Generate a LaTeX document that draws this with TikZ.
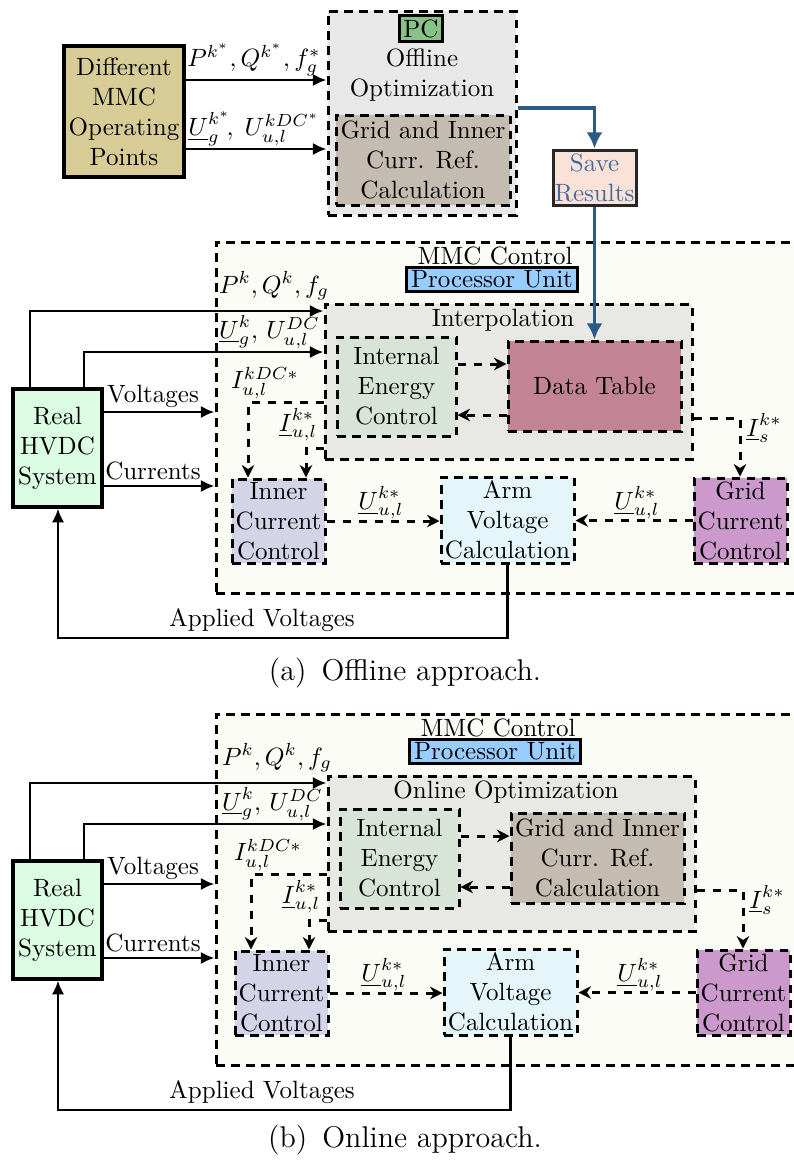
\documentclass[tikz,border=0pt]{standalone}
\usetikzlibrary{arrows.meta,fit}

\definecolor{tanbg}{RGB}{216,204,150}
\definecolor{pcbg}{RGB}{232,232,232}
\definecolor{pcgreen}{RGB}{136,194,136}
\definecolor{girbg}{RGB}{196,188,176}
\definecolor{savebg}{RGB}{250,226,216}
\definecolor{savetext}{RGB}{64,108,156}
\definecolor{flowblue}{RGB}{44,90,134}
\definecolor{mmcbg}{RGB}{252,252,246}
\definecolor{procbg}{RGB}{153,204,255}
\definecolor{interbg}{RGB}{232,232,228}
\definecolor{iecbg}{RGB}{216,228,216}
\definecolor{tabbg}{RGB}{194,132,148}
\definecolor{hvdcbg}{RGB}{220,252,228}
\definecolor{iccbg}{RGB}{212,212,232}
\definecolor{avcbg}{RGB}{228,246,250}
\definecolor{gccbg}{RGB}{204,153,204}

\tikzset{
  base/.style={inner sep=0pt},
  dbox/.style={base, draw, line width=1.2pt, dash pattern=on 3.4pt off 2.6pt},
  sbox/.style={base, draw, line width=1.3pt},
  txt/.style={align=center, inner sep=0pt},
  tag/.style={draw, line width=1.2pt, inner xsep=1.8pt, inner ysep=1.2pt, minimum height=9.4pt},
  arr/.style={line width=1.1pt, -{Latex[length=5.5pt,width=5pt]}},
  darr/.style={line width=1.2pt, dash pattern=on 3.2pt off 3.2pt, -{Stealth[length=5pt,width=5pt]}},
  blarr/.style={line width=1.5pt, draw=flowblue, -{Latex[length=6.5pt,width=6.5pt]}},
  lbl/.style={inner sep=1pt},
}

% One control structure: #1 name prefix, #2 vertical offset, #3 horizontal
% offset of the inner blocks, #4 title of the upper block, #5 text of the
% right-hand inner block, #6 its fill colour
\newcommand\ctrlhalf[6]{%
\begin{scope}[shift={(0,#2)}]
  \node[dbox, fill=mmcbg, fit={(216,242) (830,593)}] (#1mmc) {};
  \node[sbox, fill=hvdcbg, fit={(13,389) (102,507)}] (#1hvdc) {};
  \node[txt] (#1hvdct) at (#1hvdc.center) {Real\\HVDC\\System};
  \begin{scope}[shift={(#3,0)}]
    \node (#1title) at (495,256) {MMC Control};
    \node[tag, fill=procbg] (#1proc) at (492,279.5) {Processor Unit};
    \node[dbox, fill=interbg, fit={(325,304) (692,459)}] (#1inter) {};
    \node (#1intertitle) at (503,320) {#4};
    \node[dbox, fill=iecbg, fit={(337,337) (456,436)}] (#1iec) {};
    \node[txt] (#1iect) at (#1iec.center) {Internal\\Energy\\Control};
    \node[dbox, fill=#6, fit={(508,341) (681,431)}] (#1tab) {};
    \node[txt] (#1tabt) at (#1tab.center) {#5};
    \node[dbox, fill=iccbg, fit={(232,479) (325,563)}] (#1icc) {};
    \node[txt] (#1icct) at (#1icc.center) {Inner\\Current\\Control};
    \node[dbox, fill=avcbg, fit={(441,477) (574,563)}] (#1avc) {};
    \node[txt] (#1avct) at (#1avc.center) {Arm\\Voltage\\Calculation};
    \node[dbox, fill=gccbg, fit={(694,478) (787,563)}] (#1gcc) {};
    \node[txt] (#1gcct) at (#1gcc.center) {Grid\\Current\\Control};
    % signal names
    \node[lbl, anchor=west] (#1lpq) at (216,286) {$P^k, Q^k, f_g$};
    \node[lbl, anchor=west] (#1lug) at (216,332) {$\underline{U}_g^k,\, U_{u,l}^{DC}$};
    \node[lbl] (#1lidc) at (265,383) {$I_{u,l}^{kDC*}$};
    \node[lbl] (#1lil) at (298,425) {$\underline{I}_{u,l}^{k*}$};
    \node[lbl] (#1lis) at (764,428) {$\underline{I}_s^{k*}$};
    \node[lbl] (#1lua) at (381,503) {$\underline{U}_{u,l}^{k*}$};
    \node[lbl] (#1lub) at (637,503) {$\underline{U}_{u,l}^{k*}$};
    % bends of the reference paths
    \coordinate (#1ka) at (248,402);
    \coordinate (#1kb) at (306,448);
    \coordinate (#1kc) at (740,418);
    \coordinate (#1ea) at (0,364);
    \coordinate (#1eb) at (0,415);
  \end{scope}
  \coordinate (#1ra) at (30,311);
  \coordinate (#1rb) at (84,352);
  \coordinate (#1rv) at (0,412);
  \coordinate (#1rc) at (0,486);
  \coordinate (#1ap) at (58,638);
  \node (#1lv) at (153,396) {Voltages};
  \node (#1lc) at (153,471) {Currents};
  \node (#1lap) at (262,620) {Applied Voltages};
  % measurements into the controller
  \draw[arr] (#1hvdc.north -| #1ra) |- (#1inter.west |- #1ra);
  \draw[arr] (#1hvdc.north -| #1rb) |- (#1inter.west |- #1rb);
  \draw[arr] (#1hvdc.east |- #1rv) -- (#1mmc.west |- #1rv);
  \draw[arr] (#1hvdc.east |- #1rc) -- (#1mmc.west |- #1rc);
  % references
  \draw[darr] (#1iec.east |- #1ea) -- (#1tab.west |- #1ea);
  \draw[darr] (#1tab.west |- #1eb) -- (#1iec.east |- #1eb);
  \draw[darr] (#1inter.west |- #1ka) -| (#1icc.north -| #1ka);
  \draw[darr] (#1inter.west |- #1kb) -| (#1icc.north -| #1kb);
  \draw[darr] (#1inter.east |- #1kc) -| (#1gcc.north -| #1kc);
  \draw[darr] (#1icc.east) -- (#1avc.west |- #1icc.east);
  \draw[darr] (#1gcc.west) -- (#1avc.east |- #1gcc.west);
  % applied arm voltages back to the system
  \draw[arr] (#1avc.south) |- (#1ap) -- (#1hvdc.south -| #1ap);
\end{scope}}

\begin{document}
\begin{tikzpicture}[x=0.4pt, y=-0.4pt]
  \useasboundingbox (0,0) rectangle (794,1161);

  % offline optimization on the PC
  \node[sbox, fill=tanbg, fit={(64,46) (184,177)}] (diff) {};
  \node[txt] (difft) at (diff.center) {Different\\MMC\\Operating\\Points};
  \node[dbox, fill=pcbg, fit={(328,11) (516,215)}] (pcbox) {};
  \node[tag, fill=pcgreen, inner xsep=1.5pt, minimum height=10.6pt] (pc) at (421,28.5) {PC};
  \node[txt] (offl) at (422,75) {Offline\\Optimization};
  \node[dbox, fill=girbg, fit={(336,115) (510,205)}] (gir) {};
  \node[txt] (girt) at (gir.center) {Grid and Inner\\Curr. Ref.\\Calculation};
  \node[sbox, fill=savebg, draw=black!85, line width=1.2pt, fit={(553,150) (636,205)}] (save) {};
  \node[txt, text=savetext] (savet) at (save.center) {Save\\Results};

  \coordinate (ya) at (0,80);
  \coordinate (yb) at (0,149);
  \coordinate (yc) at (0,108);
  \draw[arr] (diff.east |- ya) -- (pcbox.west |- ya);
  \draw[arr] (diff.east |- yb) -- (pcbox.west |- yb);
  \node[lbl] (lpqs) at (254,60) {$P^{k^*}, Q^{k^*}, f_g^*$};
  \node[lbl] (lugs) at (254,129) {$\underline{U}_g^{k^*}\!,\; U_{u,l}^{kDC^*}$};

  % offline approach
  \ctrlhalf{a}{0}{0}{Interpolation}{Data Table}{tabbg}
  \draw[blarr] (pcbox.east |- yc) -| (save.north);
  \draw[blarr] (save.south) -- (save.south |- atab.north);
  \node[font=\large] (capa) at (405,673) {(a)\enspace Offline approach.};

  % online approach
  \ctrlhalf{b}{472}{3}{Online Optimization}{Grid and Inner\\Curr. Ref.\\Calculation}{girbg}
  \node[font=\large] (capb) at (405,1140) {(b)\enspace Online approach.};
\end{tikzpicture}
\end{document}
